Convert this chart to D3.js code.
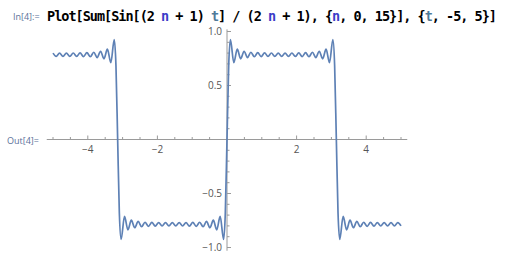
<!DOCTYPE html>
<html>
<head>
<meta charset="utf-8">
<script src="https://cdn.jsdelivr.net/npm/d3@7"></script>
<style>
  body { margin: 0; background: #fff; }
  svg { display: block; }
</style>
</head>
<body>
<div id="chart"></div>
<script>
// values: turning points of the curve, one array per stretch
var segA = [[-5, 0.800], [-4.909, 0.770], [-4.811, 0.800], [-4.713, 0.770], [-4.615, 0.800],
  [-4.516, 0.770], [-4.418, 0.801], [-4.320, 0.769], [-4.222, 0.802], [-4.124, 0.768],
  [-4.026, 0.804], [-3.927, 0.766], [-3.829, 0.808], [-3.731, 0.759], [-3.633, 0.817],
  [-3.535, 0.747], [-3.437, 0.836], [-3.338, 0.712], [-3.240, 0.925], [-3.191, 0.685]];

var segB = [[-3.142, 0], [-3.093, -0.685], [-3.043, -0.925], [-2.945, -0.712], [-2.847, -0.836],
  [-2.749, -0.747], [-2.651, -0.817], [-2.553, -0.759], [-2.454, -0.808], [-2.356, -0.766],
  [-2.258, -0.804], [-2.160, -0.768], [-2.062, -0.802], [-1.963, -0.769], [-1.865, -0.801],
  [-1.767, -0.770], [-1.669, -0.800], [-1.571, -0.770], [-1.473, -0.800], [-1.374, -0.770],
  [-1.276, -0.801], [-1.178, -0.769], [-1.080, -0.802], [-0.982, -0.768], [-0.884, -0.804],
  [-0.785, -0.766], [-0.687, -0.808], [-0.589, -0.759], [-0.491, -0.817], [-0.393, -0.747],
  [-0.295, -0.836], [-0.196, -0.712], [-0.098, -0.925], [-0.049, -0.685]];

var segC = [[0, 0], [0.049, 0.685], [0.098, 0.925], [0.196, 0.712], [0.295, 0.836],
  [0.393, 0.747], [0.491, 0.817], [0.589, 0.759], [0.687, 0.808], [0.785, 0.766],
  [0.884, 0.804], [0.982, 0.768], [1.080, 0.802], [1.178, 0.769], [1.276, 0.801],
  [1.374, 0.770], [1.473, 0.800], [1.571, 0.770], [1.669, 0.800], [1.767, 0.770],
  [1.865, 0.801], [1.963, 0.769], [2.062, 0.802], [2.160, 0.768], [2.258, 0.804],
  [2.356, 0.766], [2.454, 0.808], [2.553, 0.759], [2.651, 0.817], [2.749, 0.747],
  [2.847, 0.836], [2.945, 0.712], [3.043, 0.925], [3.093, 0.685]];

var segD = [[3.142, 0], [3.191, -0.685], [3.240, -0.925], [3.338, -0.712], [3.437, -0.836],
  [3.535, -0.747], [3.633, -0.817], [3.731, -0.759], [3.829, -0.808], [3.927, -0.766],
  [4.026, -0.804], [4.124, -0.768], [4.222, -0.802], [4.320, -0.769], [4.418, -0.801],
  [4.516, -0.770], [4.615, -0.800], [4.713, -0.770], [4.811, -0.800], [4.909, -0.770],
  [5, -0.800]];

var xMajor = [-4, -2, 2, 4];
var yMajor = [-1.0, -0.5, 0.5, 1.0];

var width = 530, height = 258;

var svg = d3.select("#chart").append("svg")
    .attr("width", width)
    .attr("height", height)
    .style("font-family", "'Open Sans', 'DejaVu Sans', sans-serif");

// input cell
svg.append("text")
    .attr("x", 13).attr("y", 20)
    .attr("fill", "#5a7099")
    .style("font-size", "9px")
    .text("In[4]:=");

var code = svg.append("text")
    .attr("x", 47).attr("y", 21)
    .attr("textLength", 450)
    .attr("lengthAdjust", "spacing")
    .style("font-family", "'DejaVu Sans Mono', monospace")
    .style("font-weight", "bold")
    .style("font-size", "13.5px")
    .attr("fill", "#000");

var parts = [["Plot[Sum[Sin[(2 ", "#000"], ["n", "#3b3bc8"], [" + 1) ", "#000"], ["t", "#4f7a99"],
  ["] / (2 ", "#000"], ["n", "#3b3bc8"], [" + 1), {", "#000"], ["n", "#3b3bc8"],
  [", 0, 15}], {", "#000"], ["t", "#4f7a99"], [", -5, 5}]", "#000"]];
parts.forEach(function(p) {
    code.append("tspan").attr("fill", p[1]).text(p[0]);
});

svg.append("text")
    .attr("x", 7).attr("y", 144)
    .attr("fill", "#5a7099")
    .style("font-size", "9px")
    .text("Out[4]=");

//
// Scales
//
var x = d3.scaleLinear().domain([-5, 5]).range([53, 401]);
var y = d3.scaleLinear().domain([-1, 1]).range([247.5, 31.5]);

var axisColor = "#9a9a9a";
var labelColor = "#555";

// x axis
svg.append("line")
    .attr("x1", x(-5.18)).attr("x2", x(5.18))
    .attr("y1", y(0)).attr("y2", y(0))
    .attr("stroke", axisColor).attr("stroke-width", 1);

svg.append("g").selectAll("line")
    .data(d3.range(-10, 11).map(function(i) { return i / 2; }).filter(function(v) { return v !== 0; }))
    .join("line")
    .attr("x1", function(d) { return x(d); })
    .attr("x2", function(d) { return x(d); })
    .attr("y1", y(0))
    .attr("y2", function(d) { return y(0) - (xMajor.indexOf(d) >= 0 ? 4 : 2.5); })
    .attr("stroke", axisColor).attr("stroke-width", 1);

svg.append("g").selectAll("text")
    .data(xMajor)
    .join("text")
    .attr("x", function(d) { return x(d); })
    .attr("y", y(0) + 13)
    .attr("text-anchor", "middle")
    .attr("fill", labelColor)
    .style("font-size", "10px")
    .text(function(d) { return d3.format("d")(d).replace("-", "\u2212"); });

// y axis
svg.append("line")
    .attr("x1", x(0)).attr("x2", x(0))
    .attr("y1", y(1.02)).attr("y2", y(-1.03))
    .attr("stroke", axisColor).attr("stroke-width", 1);

svg.append("g").selectAll("line")
    .data(d3.range(-10, 11).map(function(i) { return i / 10; }).filter(function(v) { return v !== 0; }))
    .join("line")
    .attr("x1", x(0))
    .attr("x2", function(d) { return x(0) + (Math.abs(Math.abs(d) - 0.5) < 1e-9 || Math.abs(Math.abs(d) - 1) < 1e-9 ? 4 : 2.5); })
    .attr("y1", function(d) { return y(d); })
    .attr("y2", function(d) { return y(d); })
    .attr("stroke", axisColor).attr("stroke-width", 1);

svg.append("g").selectAll("text")
    .data(yMajor)
    .join("text")
    .attr("x", x(0) - 5)
    .attr("y", function(d) { return y(d) + 3.5; })
    .attr("text-anchor", "end")
    .attr("fill", labelColor)
    .style("font-size", "10px")
    .text(function(d) { return d3.format(".1f")(d).replace("-", "\u2212"); });

// curve
var pts = segA.concat(segB, segC, segD);
var line = d3.line()
    .x(function(d) { return x(d[0]); })
    .y(function(d) { return y(d[1]); })
    .curve(d3.curveMonotoneX);

svg.append("path")
    .datum(pts)
    .attr("fill", "none")
    .attr("stroke", "#5e81b5")
    .attr("stroke-width", 1.7)
    .attr("stroke-linejoin", "round")
    .attr("d", line);
</script>
</body>
</html>
